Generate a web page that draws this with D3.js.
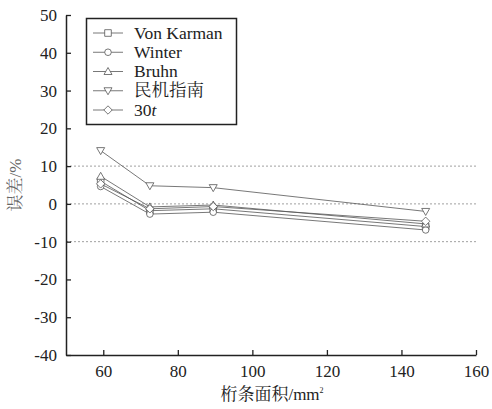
<!DOCTYPE html>
<html>
<head>
<meta charset="utf-8">
<script src="https://cdn.jsdelivr.net/npm/d3@7"></script>
<style>
  body { margin: 0; background: #fff; }
</style>
</head>
<body>
<script>
var width = 492;
var height = 409;
var FONT = '"Liberation Serif", "Noto Serif CJK SC", serif';

// spar area (mm^2)
var areas = [59.3, 72.5, 89.5, 146.5];
var seriesNames = ['Von Karman', 'Winter', 'Bruhn', '民机指南', '30t'];
var vonKarman = [6.0, -1.8, -1.3, -6.0];
var winter = [4.6, -2.7, -2.2, -6.9];
var bruhn = [7.3, -0.8, -0.3, -5.3];
var minjiGuide = [14.1, 4.8, 4.3, -2.0];
var thirtyT = [5.3, -1.3, -0.7, -4.6];
var xTicks = [60, 80, 100, 120, 140, 160];
var yTicks = [-40, -30, -20, -10, 0, 10, 20, 30, 40, 50];
var gridValues = [10, 0, -10];

var series = [
  { name: seriesNames[0], values: vonKarman, shape: 'square' },
  { name: seriesNames[1], values: winter, shape: 'circle' },
  { name: seriesNames[2], values: bruhn, shape: 'up' },
  { name: seriesNames[3], values: minjiGuide, shape: 'down' },
  { name: seriesNames[4], values: thirtyT, shape: 'diamond' }
];

var margin = { left: 66, right: 16, top: 15, bottom: 54 };

var x = d3.scaleLinear().domain([50, 160]).range([margin.left, width - margin.right]);
var y = d3.scaleLinear().domain([-40, 50]).range([height - margin.bottom, margin.top]);

var svg = d3.select('body').append('svg')
  .attr('width', width)
  .attr('height', height);

// dotted grid lines
svg.selectAll('.grid')
   .data(gridValues)
   .enter().append('line')
   .attr('class', 'grid')
   .attr('x1', x(50))
   .attr('x2', x(160))
   .attr('y1', d => y(d))
   .attr('y2', d => y(d))
   .style('stroke', '#888')
   .style('stroke-width', 0.8)
   .style('stroke-dasharray', '2,2');

var fmt = d => String(d); // plain hyphen for negatives
var xAxis = d3.axisBottom(x).tickValues(xTicks).tickFormat(fmt).tickSizeInner(-5).tickSizeOuter(0).tickPadding(10);
var yAxis = d3.axisLeft(y).tickValues(yTicks).tickFormat(fmt).tickSizeInner(-5).tickSizeOuter(0).tickPadding(9);

var gx = svg.append('g')
  .attr('transform', 'translate(0,' + y(-40) + ')')
  .call(xAxis);
var gy = svg.append('g')
  .attr('transform', 'translate(' + x(50) + ',0)')
  .call(yAxis);

[gx, gy].forEach(g => {
  g.attr('font-family', FONT).attr('font-size', 17);
  g.select('.domain').style('stroke', '#222').style('stroke-width', 1.5);
  g.selectAll('.tick line').style('stroke', '#222').style('stroke-width', 1.3);
  g.selectAll('.tick text')
   .style('font-family', FONT)
   .style('font-size', '17px')
   .style('fill', '#222');
});

var symbolPath = function(shape, cx, cy) {
  var r = 3.3;
  if (shape === 'square') {
    return 'M' + (cx - r) + ',' + (cy - r) + 'h' + 2 * r + 'v' + 2 * r + 'h' + (-2 * r) + 'Z';
  } else if (shape === 'circle') {
    return 'M' + (cx - r) + ',' + cy + 'a' + r + ',' + r + ' 0 1,0 ' + 2 * r + ',0a' + r + ',' + r + ' 0 1,0 ' + (-2 * r) + ',0Z';
  } else if (shape === 'up') {
    return 'M' + cx + ',' + (cy - 4) + 'L' + (cx + 4) + ',' + (cy + 3) + 'L' + (cx - 4) + ',' + (cy + 3) + 'Z';
  } else if (shape === 'down') {
    return 'M' + cx + ',' + (cy + 4) + 'L' + (cx + 4) + ',' + (cy - 3) + 'L' + (cx - 4) + ',' + (cy - 3) + 'Z';
  }
  return 'M' + cx + ',' + (cy - 4.2) + 'L' + (cx + 4.2) + ',' + cy + 'L' + cx + ',' + (cy + 4.2) + 'L' + (cx - 4.2) + ',' + cy + 'Z';
};

var line = d3.line()
  .x(d => x(d.x))
  .y(d => y(d.y));

series.forEach(s => {
  var pts = areas.map((a, i) => ({ x: a, y: s.values[i] }));
  svg.append('path')
     .datum(pts)
     .attr('d', line)
     .style('fill', 'none')
     .style('stroke', '#555')
     .style('stroke-width', 0.8);
  svg.selectAll('.m' + s.shape)
     .data(pts)
     .enter().append('path')
     .attr('class', 'm' + s.shape)
     .attr('d', d => symbolPath(s.shape, x(d.x), y(d.y)))
     .style('fill', '#fff')
     .style('stroke', '#555')
     .style('stroke-width', 0.8);
});

// legend
var lg = svg.append('g');
lg.append('rect')
  .attr('x', 86.5)
  .attr('y', 18.5)
  .attr('width', 150)
  .attr('height', 106)
  .style('fill', '#fff')
  .style('stroke', '#222')
  .style('stroke-width', 1.5);

var rowY = d3.scalePoint().domain(seriesNames).range([33, 110]);
series.forEach(s => {
  var ry = rowY(s.name);
  lg.append('line')
    .attr('x1', 93).attr('x2', 123)
    .attr('y1', ry).attr('y2', ry)
    .style('stroke', '#555')
    .style('stroke-width', 0.8);
  lg.append('path')
    .attr('d', symbolPath(s.shape, 108, ry))
    .style('fill', '#fff')
    .style('stroke', '#555')
    .style('stroke-width', 0.8);
  var t = lg.append('text')
    .attr('x', 134)
    .attr('y', ry + 5.5)
    .style('font-family', FONT)
    .style('font-size', '17.5px')
    .style('fill', '#222');
  if (s.name === '30t') {
    t.append('tspan').text('30');
    t.append('tspan').style('font-style', 'italic').text('t');
  } else {
    t.text(s.name);
  }
});

// axis titles
var xt = svg.append('text')
  .attr('x', 272)
  .attr('y', 400)
  .attr('text-anchor', 'middle')
  .style('font-family', FONT)
  .style('font-size', '17px')
  .style('fill', '#222');
xt.append('tspan').text('桁条面积/mm');
xt.append('tspan').attr('dy', -7).style('font-size', '8px').text('2');

svg.append('text')
  .attr('transform', 'translate(21,' + y(5) + ') rotate(-90)')
  .attr('text-anchor', 'middle')
  .style('font-family', FONT)
  .style('font-size', '17px')
  .style('fill', '#666')
  .text('误差/%');
</script>
</body>
</html>
